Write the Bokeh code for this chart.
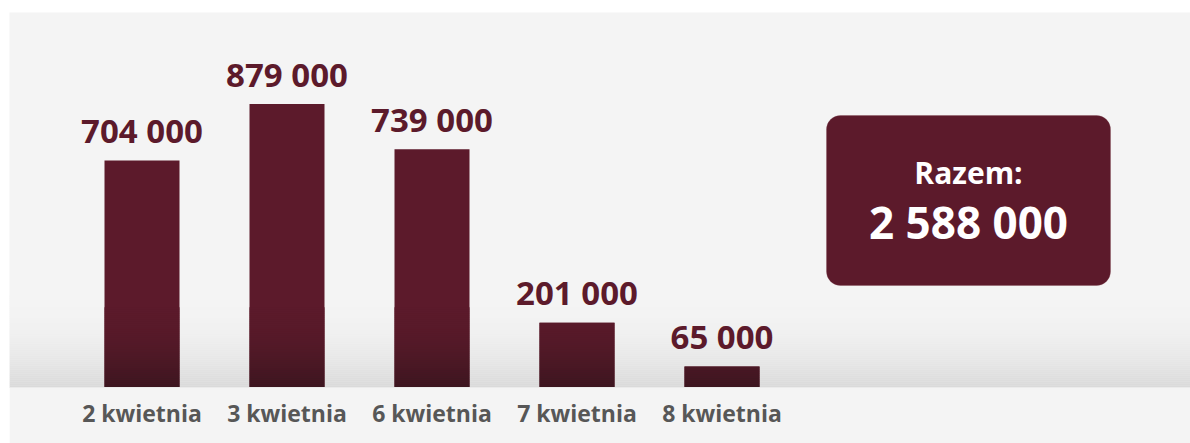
from bokeh.plotting import figure
from bokeh.models import Range1d, FixedTicker, BoxAnnotation, Label, ColumnDataSource, Spacer
from bokeh.layouts import column, row
from bokeh.core.properties import value
from bokeh.embed import file_html
from bokeh.resources import INLINE
import numpy as np

# ---- data ----
categories = ["2 kwietnia", "3 kwietnia", "6 kwietnia", "7 kwietnia", "8 kwietnia"]
values = [704000, 879000, 739000, 201000, 65000]
total_label = "Razem:"

def fmt(v):
    return f"{v:,}".replace(",", " ")

# ---- layout constants ----
LEFT, TOP = 9, 12
W, H = 1190 - LEFT, 443 - TOP
BASE = 387 - TOP            # frame bottom, in figure pixels
FONT = "Open Sans"
BAR = "#5c1a2b"
UPP = 3100.8                # data units per pixel (vertical)
PPX = 145.0                 # pixels per category
x0 = -(141.5 - LEFT) / PPX
y_end = BASE * UPP

def xd(img_x):
    return (img_x - 141.5) / PPX

def yd(img_y):
    return (387 - img_y) * UPP

def ease(t):
    # smooth: flat at the top of the band
    return 1 - (1 - t) ** 2

p = figure(width=W, height=H, output_backend="svg", toolbar_location=None,
           x_range=Range1d(x0, x0 + W / PPX), y_range=Range1d(0, y_end),
           min_border_left=0, min_border_right=0, min_border_top=0,
           min_border_bottom=H - BASE)
p.background_fill_color = "#f4f4f4"
p.border_fill_color = "#f4f4f4"
p.outline_line_color = None
p.grid.visible = False
p.yaxis.visible = False

xs = list(range(len(categories)))

# background gradient band near baseline
band_px = 92
N = 46
for k in range(N):
    t = (k + 0.5) / N   # 0 bottom, 1 top
    c = int(round(0xd9 + (0xf4 - 0xd9) * ease(t)))
    y0 = band_px * UPP * k / N
    y1 = band_px * UPP * (k + 1) / N
    p.add_layout(BoxAnnotation(bottom=y0, top=y1 + 0.3 * UPP, fill_color=f"#{c:02x}{c:02x}{c:02x}",
                               fill_alpha=1, line_color=None, level="underlay"))

# bars
BW = 75 / PPX
p.vbar(x=xs, top=values, bottom=0, width=BW, fill_color=BAR, line_color=None)

# darkening of bar bottoms
vals = np.array(values, dtype=float)
top_rgb = np.array([0x5c, 0x1a, 0x2b])
bot_rgb = np.array([0x3a, 0x16, 0x1f])
M = 46
for k in range(M):
    t = (k + 0.5) / M
    rgb = (bot_rgb + (top_rgb - bot_rgb) * ease(t)).round().astype(int)
    if tuple(rgb) == tuple(top_rgb):
        continue
    y0 = band_px * UPP * k / M
    y1 = band_px * UPP * (k + 1) / M
    mask = vals > y0
    if not mask.any():
        continue
    bx = [x for x, m in zip(xs, mask) if m]
    bt = list(np.minimum(vals[mask], y1 + 0.3 * UPP))
    p.vbar(x=bx, top=bt, bottom=y0, width=BW,
           fill_color="#%02x%02x%02x" % tuple(rgb), line_color=None)

# value labels
src = ColumnDataSource(dict(x=xs, y=values, t=[fmt(v) for v in values]))
p.text(x="x", y="y", text="t", source=src, text_align="center", text_baseline="alphabetic",
       y_offset=-30, text_font=value(FONT), text_font_style="bold",
       text_font_size="33px", text_color=BAR)

# x axis with categories
ax = p.xaxis[0]
ax.ticker = FixedTicker(ticks=xs)
ax.major_label_overrides = {i: c for i, c in zip(xs, categories)}
ax.major_tick_line_color = None
ax.minor_tick_line_color = None
ax.axis_line_color = "#ebebeb"
ax.major_label_standoff = 3
ax.major_label_text_font = FONT
ax.major_label_text_font_style = "bold"
ax.major_label_text_font_size = "23px"
ax.major_label_text_color = "#575757"

# total box
bl, br = xd(826), xd(1110)
p.add_layout(BoxAnnotation(left=bl, right=br, bottom=yd(285), top=yd(115),
                           fill_color=BAR, fill_alpha=1, line_color="#7b3a4a",
                           line_width=1, border_radius=14))
cx = (bl + br) / 2
p.add_layout(Label(x=cx, y=yd(172), text=total_label, text_align="center",
                   text_baseline="alphabetic", text_font=FONT, text_font_style="bold",
                   text_font_size="30px", text_color="white"))
p.add_layout(Label(x=cx, y=yd(221), text=fmt(sum(values)), text_align="center",
                   text_baseline="alphabetic", text_font=FONT, text_font_style="bold",
                   text_font_size="44px", text_color="white"))

layout = column(Spacer(height=TOP, width=1190),
                row(Spacer(width=LEFT, height=H), p, spacing=0), spacing=0)

open("out.html", "w").write(file_html(layout, INLINE))
